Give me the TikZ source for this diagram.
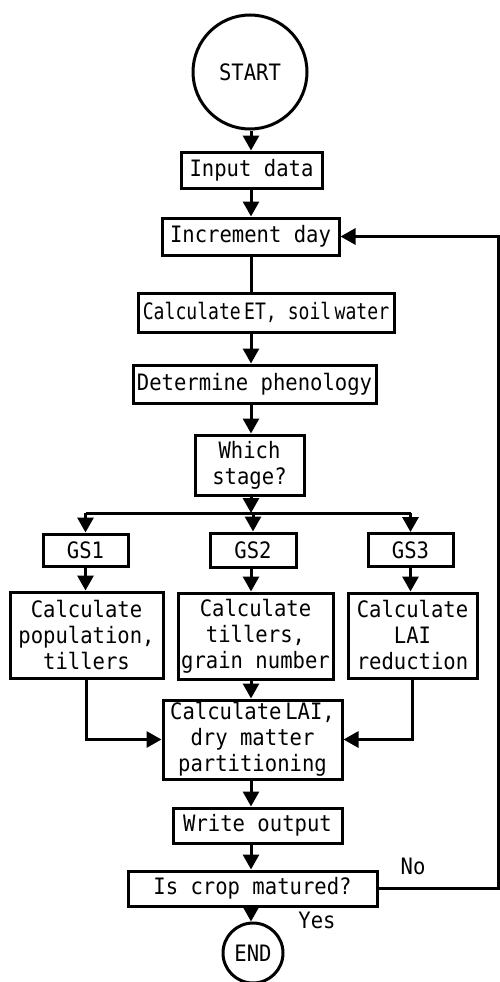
\documentclass[tikz,border=0pt]{standalone}
\usepackage{fontspec}
\usepackage{tikz}
\usetikzlibrary{arrows.meta}
\newfontfamily\chartfont[FakeStretch=0.91]{DejaVu Sans Mono}

\begin{document}
\begin{tikzpicture}[x=1pt,y=-1pt,line width=3pt,
        box/.style={draw,rectangle,inner sep=0pt,align=center},
        term/.style={draw,circle,inner sep=0pt},
        flow/.style={-{Triangle[length=15pt,width=16pt]}},
        font=\chartfont\fontsize{22.6}{26}\selectfont]
        \useasboundingbox (0,0) rectangle (500,982);
        \node[term,minimum size=114pt] (start) at (250,72) {START};
        \node[box,minimum width=141pt,minimum height=36pt] (input) at (251.5,170) {Input data};
        \node[box,minimum width=177pt,minimum height=37pt] (incr) at (250.5,236.5) {Increment day};
        \node[box,minimum width=256pt,minimum height=39pt] (calcet) at (266,312.5) {\scalebox{0.88}[1]{Calculate\,ET, soil\,water}};
        \node[box,minimum width=243pt,minimum height=38pt] (pheno) at (254.5,384) {Determine phenology};
        \node[box,minimum width=109pt,minimum height=60pt] (stage) at (249.5,465) {Which\\stage?};
        \node[box,minimum width=85pt,minimum height=32pt] (gs1) at (85.5,550) {GS1};
        \node[box,minimum width=86pt,minimum height=34pt] (gs2) at (253,550) {GS2};
        \node[box,minimum width=85pt,minimum height=33pt] (gs3) at (410.5,550) {GS3};
        \node[box,minimum width=153pt,minimum height=86pt] (pop) at (86.5,635) {Calculate\\population,\\tillers};
        \node[box,minimum width=155pt,minimum height=86pt] (till) at (255.5,636) {Calculate\\tillers,\\grain number};
        \node[box,minimum width=129pt,minimum height=85pt] (red) at (412.5,635.5) {Calculate\\LAI\\reduction};
        \node[box,minimum width=179pt,minimum height=79pt] (lai) at (252.5,739.5) {Calculate\,LAI,\\dry matter\\partitioning};
        \node[box,minimum width=169pt,minimum height=35pt] (out) at (257.5,825.5) {Write output};
        \node[box,minimum width=249pt,minimum height=35pt] (mat) at (252.5,888.5) {Is crop matured?};
        \node[term,minimum size=60pt] (end) at (253,953) {END};
        \node (no) at (413,866) {No};
        \node (yes) at (317,920) {Yes};
        \coordinate (spine) at (251,0);
        \coordinate (fork) at (251,513);
        \coordinate (rim) at (498,0);
        \foreach \a/\b in {start/input,input/incr,calcet/pheno,pheno/stage,gs2/till,till/lai,lai/out,out/mat,mat/end} {
            \draw[flow] (\a.south -| spine) -- (\b.north -| spine);
          }
        \draw (incr.south -| spine) -- (calcet.north -| spine);
        \draw[flow] (stage.south -| spine) -- (fork);
        \draw (fork -| gs1) -- (fork -| gs3);
        \foreach \g in {gs1,gs2,gs3} {
            \draw[flow] (fork -| \g) -- (\g.north);
          }
        \draw[flow] (gs1.south) -- (gs1.south |- pop.north);
        \draw[flow] (gs3.south) -- (gs3.south |- red.north);
        \draw[flow] (pop.south) |- (lai.west);
        \draw[flow] (red.south) |- (lai.east);
        \draw[flow] (mat.east) -- (mat.east -| rim) -- (incr.east -| rim) -- (incr.east);
      \end{tikzpicture}
\end{document}
